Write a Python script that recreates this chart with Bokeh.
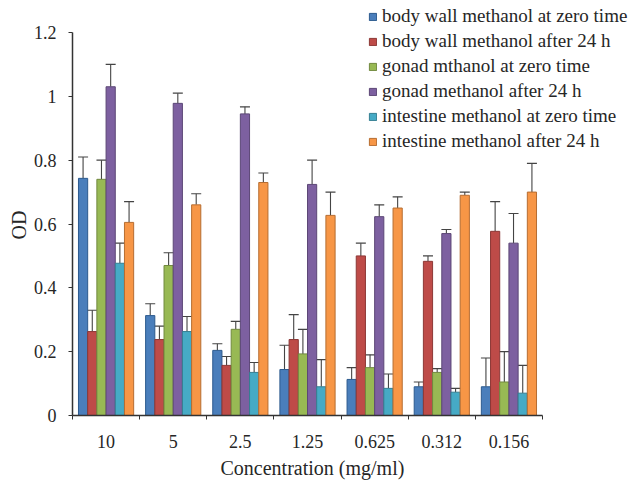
from bokeh.plotting import figure
from bokeh.models import (Range1d, FixedTicker, Whisker, TeeHead, ColumnDataSource,
                          Legend, LegendItem, Title)
from bokeh.embed import file_html
from bokeh.resources import INLINE

concentrations = ["10", "5", "2.5", "1.25", "0.625", "0.312", "0.156"]

series_names = [
    "body wall methanol at zero time",
    "body wall methanol after 24 h",
    "gonad mthanol at zero time",
    "gonad methanol after 24 h",
    "intestine methanol at zero time",
    "intestine methanol after 24 h",
]

body_wall_zero = [0.743, 0.313, 0.204, 0.144, 0.113, 0.090, 0.090]
body_wall_24h = [0.263, 0.238, 0.157, 0.238, 0.500, 0.483, 0.577]
gonad_zero = [0.740, 0.470, 0.270, 0.193, 0.150, 0.135, 0.105]
gonad_24h = [1.030, 0.978, 0.945, 0.724, 0.623, 0.570, 0.540]
intestine_zero = [0.477, 0.263, 0.135, 0.090, 0.085, 0.073, 0.070]
intestine_24h = [0.605, 0.660, 0.730, 0.627, 0.650, 0.690, 0.700]

body_wall_zero_err = [0.067, 0.037, 0.021, 0.076, 0.037, 0.015, 0.090]
body_wall_24h_err = [0.067, 0.042, 0.028, 0.078, 0.040, 0.017, 0.093]
gonad_zero_err = [0.060, 0.040, 0.025, 0.077, 0.040, 0.012, 0.095]
gonad_24h_err = [0.070, 0.032, 0.022, 0.076, 0.037, 0.013, 0.093]
intestine_zero_err = [0.063, 0.047, 0.031, 0.085, 0.045, 0.012, 0.087]
intestine_24h_err = [0.065, 0.035, 0.030, 0.073, 0.035, 0.010, 0.090]

y_ticks = [0, 0.2, 0.4, 0.6, 0.8, 1.0, 1.2]
y_tick_labels = ["0", "0.2", "0.4", "0.6", "0.8", "1", "1.2"]

values = [body_wall_zero, body_wall_24h, gonad_zero, gonad_24h, intestine_zero, intestine_24h]
errors = [body_wall_zero_err, body_wall_24h_err, gonad_zero_err, gonad_24h_err,
          intestine_zero_err, intestine_24h_err]

fill_colors = ["#4A7EBB", "#BE4B48", "#98B954", "#7D60A0", "#46AAC5", "#F79646"]
line_colors = ["#2C5A8E", "#8C3836", "#71893F", "#5C4776", "#357F92", "#B66D31"]

FONT = "Liberation Serif"
TEXT = "#262626"

# pixel layout of the plot area (data part) inside the canvas
W, H = 630, 482
LEFT, BOTTOM = 72, 67
DATA_RIGHT_PX = 542          # right end of the category axis
DATA_TOP_PX = 32             # position of y = 1.2
frame_w = W - LEFT
frame_h = H - BOTTOM
n_cat = len(concentrations)
x_end = n_cat * frame_w / (DATA_RIGHT_PX - LEFT)
y_end = 1.2 * frame_h / (frame_h - DATA_TOP_PX)

p = figure(width=W, height=H, output_backend="svg", toolbar_location=None,
           x_range=Range1d(0, x_end), y_range=Range1d(0, y_end),
           min_border_left=LEFT, min_border_right=0, min_border_top=0,
           min_border_bottom=BOTTOM)
p.outline_line_color = None
p.xgrid.visible = False
p.ygrid.visible = False
p.background_fill_color = "white"
p.border_fill_color = "white"

n_series = len(values)
bar_w = 0.137
items = []
for j in range(n_series):
    xs = [i + 0.5 + (j - (n_series - 1) / 2) * bar_w for i in range(n_cat)]
    tops = values[j]
    uppers = [v + e for v, e in zip(values[j], errors[j])]
    src = ColumnDataSource(dict(x=xs, top=tops, upper=uppers))
    r = p.vbar(x="x", top="top", width=bar_w, bottom=0, source=src,
               fill_color=fill_colors[j], line_color=line_colors[j], line_width=1)
    w = Whisker(base="x", lower="top", upper="upper", source=src, dimension="height",
                line_color="#444444", line_width=1.1, lower_head=None,
                upper_head=TeeHead(size=10, line_color="#444444", line_width=1.1))
    p.add_layout(w)
    items.append(LegendItem(label=series_names[j], renderers=[r]))

# x axis
xa = p.xaxis[0]
xa.bounds = (0, n_cat)
xa.ticker = FixedTicker(ticks=[i + 0.5 for i in range(n_cat)],
                        minor_ticks=list(range(n_cat + 1)))
xa.major_label_overrides = {i + 0.5: c for i, c in enumerate(concentrations)}
xa.major_tick_line_color = None
xa.major_tick_out = 0
xa.major_tick_in = 0
xa.minor_tick_out = 4
xa.minor_tick_in = 0
xa.minor_tick_line_color = "#333333"
xa.axis_line_color = "#333333"
xa.axis_line_width = 1.5
xa.major_label_standoff = 15
xa.major_label_text_font = FONT
xa.major_label_text_font_size = "18px"
xa.major_label_text_color = TEXT

# y axis
ya = p.yaxis[0]
ya.bounds = (0, 1.2)
ya.ticker = FixedTicker(ticks=y_ticks)
ya.major_label_overrides = dict(zip(y_ticks, y_tick_labels))
ya.minor_tick_line_color = None
ya.major_tick_out = 4
ya.major_tick_in = 0
ya.major_tick_line_color = "#333333"
ya.axis_line_color = "#333333"
ya.axis_line_width = 1.5
ya.major_label_standoff = 12
ya.major_label_text_font = FONT
ya.major_label_text_font_size = "18px"
ya.major_label_text_color = TEXT

# axis titles placed along the data part of the axes
xtitle = "Concentration (mg/ml)"
p.add_layout(Title(text=xtitle, align="left", offset=148, standoff=8,
                   text_font=FONT, text_font_size="20px", text_font_style="normal",
                   text_color=TEXT), "below")
p.add_layout(Title(text="OD", align="left", offset=176, standoff=2,
                   text_font=FONT, text_font_size="20px", text_font_style="normal",
                   text_color=TEXT), "left")

legend = Legend(items=items, location=(296, 263), padding=0, margin=0,
                spacing=3, label_height=21, glyph_height=9, glyph_width=9,
                label_standoff=5, border_line_color=None, background_fill_alpha=0,
                label_text_font=FONT, label_text_font_size="19px",
                label_text_color=TEXT)
p.add_layout(legend)

open("out.html", "w").write(file_html(p, INLINE))
